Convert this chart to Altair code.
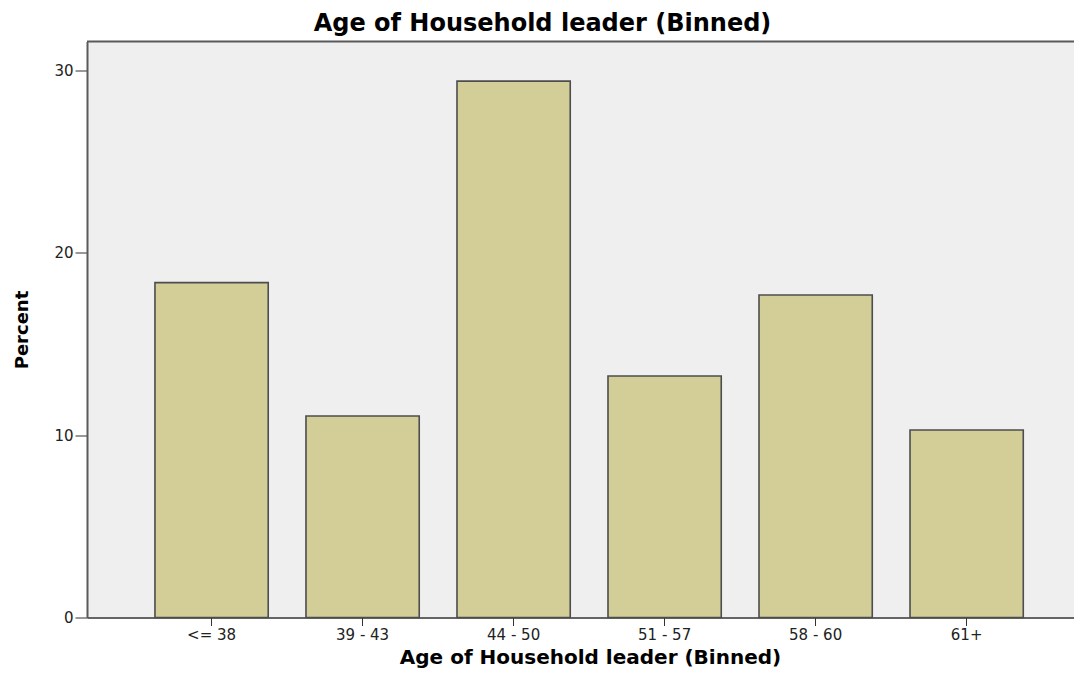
import altair as alt
import pandas as pd

categories = ["<= 38", "39 - 43", "44 - 50", "51 - 57", "58 - 60", "61+"]
percents = [18.36, 11.05, 29.41, 13.24, 17.68, 10.28]
y_ticks = [0, 10, 20, 30]

df = pd.DataFrame({"age": categories, "pct": percents})
frame_df = pd.DataFrame({"edge": ["top"]})

FONT = "DejaVu Sans"
FRAME = "#5a5a5a"

bars = alt.Chart(df).mark_bar(
    color="#D3CE97", stroke="#4d4d4d", strokeWidth=1.6
).encode(
    x=alt.X(
        "age:N", sort=categories, title="Age of Household leader (Binned)",
        scale=alt.Scale(paddingInner=0.25, paddingOuter=0.393, align=0.5726),
        axis=alt.Axis(
            labelAngle=0, tickSize=8, labelPadding=2, labelFont=FONT,
            labelFontSize=15, labelColor="#222222", tickColor="#333333",
            domainColor="#333333", domainWidth=1.5, titleFont=FONT,
            titleFontSize=20, titleFontWeight="bold", titleX=503, titleY=46,
            titleBaseline="alphabetic", titleColor="#000000",
        ),
    ),
    y=alt.Y(
        "pct:Q", title="Percent",
        scale=alt.Scale(domain=[0, 31.58], nice=False),
        axis=alt.Axis(
            values=y_ticks, tickSize=12, labelPadding=2, grid=False,
            domainColor=FRAME, domainWidth=2,
            labelFont=FONT, labelFontSize=15, labelColor="#222222",
            tickColor="#333333", titleFont=FONT, titleFontSize=18,
            titleFontWeight="bold", titleX=-65, titleY=288, titleAngle=-90,
            titleBaseline="middle", titleAlign="center", titleColor="#000000",
        ),
    ),
)

top_edge = alt.Chart(frame_df).mark_rule(color=FRAME, strokeWidth=2).encode(
    y=alt.value(0)
)

chart = alt.layer(bars, top_edge).properties(
    width=987, height=576,
    title=alt.Title(
        "Age of Household leader (Binned)", font=FONT, fontSize=24,
        fontWeight="bold", color="#000000", anchor="middle", dx=-38,
        dy=22, offset=8, baseline="alphabetic",
    ),
    autosize=alt.AutoSizeParams(type="none"),
    padding={"left": 79, "top": 33.5, "right": 0, "bottom": 51},
    background="white",
).configure_view(fill="#EFEFEF", stroke=None)

chart.save("out.html", embed_options={"renderer": "svg", "actions": False})
